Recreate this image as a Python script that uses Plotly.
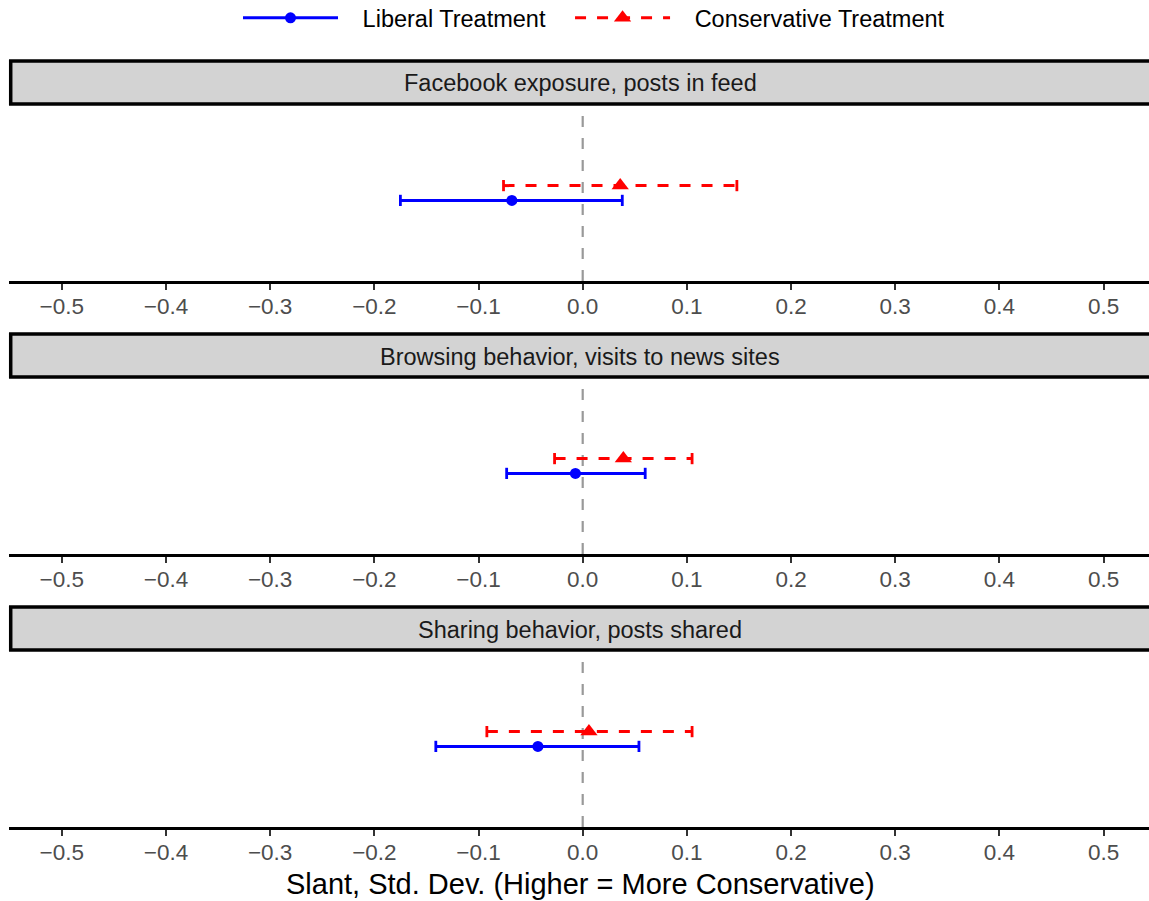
import plotly.graph_objects as go

# ---- data ----
outcomes = ["Facebook exposure, posts in feed",
            "Browsing behavior, visits to news sites",
            "Sharing behavior, posts shared"]
series_names = ["Liberal Treatment", "Conservative Treatment"]
lib_est = [-0.068, -0.007, -0.043]
lib_lo = [-0.175, -0.073, -0.141]
lib_hi = [0.038, 0.060, 0.054]
con_est = [0.036, 0.039, 0.006]
con_lo = [-0.076, -0.027, -0.092]
con_hi = [0.148, 0.105, 0.105]
x_ticks = [-0.5, -0.4, -0.3, -0.2, -0.1, 0.0, 0.1, 0.2, 0.3, 0.4, 0.5]
x_title = "Slant, Std. Dev. (Higher = More Conservative)"

# ---- layout constants ----
W, H = 1149, 901
FONT = "Liberation Sans, Arial, sans-serif"
BLUE, RED = "#0000ff", "#ff0000"
DODGE = 0.084
PERIOD = 273
AXIS0 = 281.0
TOP0 = 105.0
STRIP_TOP0 = 61.0
DASH = "11px,11px"
NB = "\u00a0"


def py(p):
    return 1 - p / H


fig = go.Figure()
layout = dict(
    width=W, height=H,
    margin=dict(l=9, r=0, t=0, b=0, autoexpand=False),
    paper_bgcolor="white", plot_bgcolor="white",
    font=dict(family=FONT),
    showlegend=True,
    shapes=[], annotations=[],
)

for k, name in enumerate(outcomes):
    xa = "x" if k == 0 else f"x{k+1}"
    ya = "y" if k == 0 else f"y{k+1}"
    xkey = "xaxis" if k == 0 else f"xaxis{k+1}"
    ykey = "yaxis" if k == 0 else f"yaxis{k+1}"
    axis_px = AXIS0 + PERIOD * k
    top_px = TOP0 + PERIOD * k
    layout[ykey] = dict(domain=[py(axis_px), py(top_px)], range=[-1, 1],
                        visible=False, fixedrange=True)
    layout[xkey] = dict(domain=[0, 1], anchor=ya, range=[-0.5507, 0.5436],
                        tickvals=x_ticks, tickformat=".1f",
                        showline=True, linecolor="black", linewidth=2.5,
                        ticks="outside", ticklen=6, tickwidth=2.2, tickcolor="#333333",
                        ticklabelstandoff=-3,
                        tickfont=dict(size=22.5, color="#4d4d4d", family=FONT),
                        showgrid=False, zeroline=False, fixedrange=True)

    # reference line at zero
    layout["shapes"].append(dict(type="line", xref=xa, yref=f"{ya} domain",
                                 x0=0, x1=0, y0=0, y1=1,
                                 line=dict(color="#999999", width=2.2, dash=DASH),
                                 layer="below"))
    # strip
    layout["shapes"].append(dict(type="rect", xref="paper", yref="paper",
                                 x0=0.0015, x1=1.02,
                                 y0=py(STRIP_TOP0 + PERIOD * k + 43),
                                 y1=py(STRIP_TOP0 + PERIOD * k),
                                 fillcolor="#d3d3d3",
                                 line=dict(color="black", width=3.5)))
    layout["annotations"].append(dict(text=name, xref="paper", yref="paper",
                                      x=(580 - 9) / 1140,
                                      y=py(STRIP_TOP0 + PERIOD * k + 22.5),
                                      showarrow=False, xanchor="center", yanchor="middle",
                                      font=dict(size=23.5, color="#1a1a1a", family=FONT)))

    for est, lo, hi, off, col, dash, sym, msize in [
        (lib_est[k], lib_lo[k], lib_hi[k], -DODGE, BLUE, "solid", "circle", 11),
        (con_est[k], con_lo[k], con_hi[k], DODGE, RED, DASH, "triangle-up", 15),
    ]:
        fig.add_trace(go.Scatter(x=[lo, hi], y=[off, off], xaxis=xa, yaxis=ya,
                                 mode="lines", line=dict(color=col, width=3, dash=dash),
                                 showlegend=False, hoverinfo="skip"))
        fig.add_trace(go.Scatter(x=[lo, hi], y=[off, off], xaxis=xa, yaxis=ya,
                                 mode="markers",
                                 marker=dict(symbol="line-ns", size=8, color=col,
                                             line=dict(color=col, width=2.8)),
                                 showlegend=False, hoverinfo="skip"))
        fig.add_trace(go.Scatter(x=[est], y=[off], xaxis=xa, yaxis=ya,
                                 mode="markers",
                                 marker=dict(symbol=sym, size=msize, color=col),
                                 showlegend=False))

# legend entries
fig.add_trace(go.Scatter(x=[None], y=[None], name=NB * 3 + series_names[0] + NB * 3,
                         mode="lines+markers",
                         line=dict(color=BLUE, width=3),
                         marker=dict(symbol="circle", size=11, color=BLUE)))
fig.add_trace(go.Scatter(x=[None], y=[None], name=NB * 3 + series_names[1],
                         mode="lines+markers",
                         line=dict(color=RED, width=3, dash=DASH),
                         marker=dict(symbol="triangle-up", size=15, color=RED)))

layout["legend"] = dict(orientation="h", x=(594 - 9) / 1140, xanchor="center",
                        y=py(-4), yanchor="top", itemwidth=95,
                        font=dict(size=23.5, color="black", family=FONT),
                        bgcolor="rgba(0,0,0,0)")

layout["annotations"].append(dict(text=x_title, xref="paper", yref="paper",
                                  x=(580.5 - 9) / 1140, y=py(884),
                                  showarrow=False, xanchor="center", yanchor="middle",
                                  font=dict(size=29, color="black", family=FONT)))

fig.update_layout(**layout)
fig.write_html("out.html")
